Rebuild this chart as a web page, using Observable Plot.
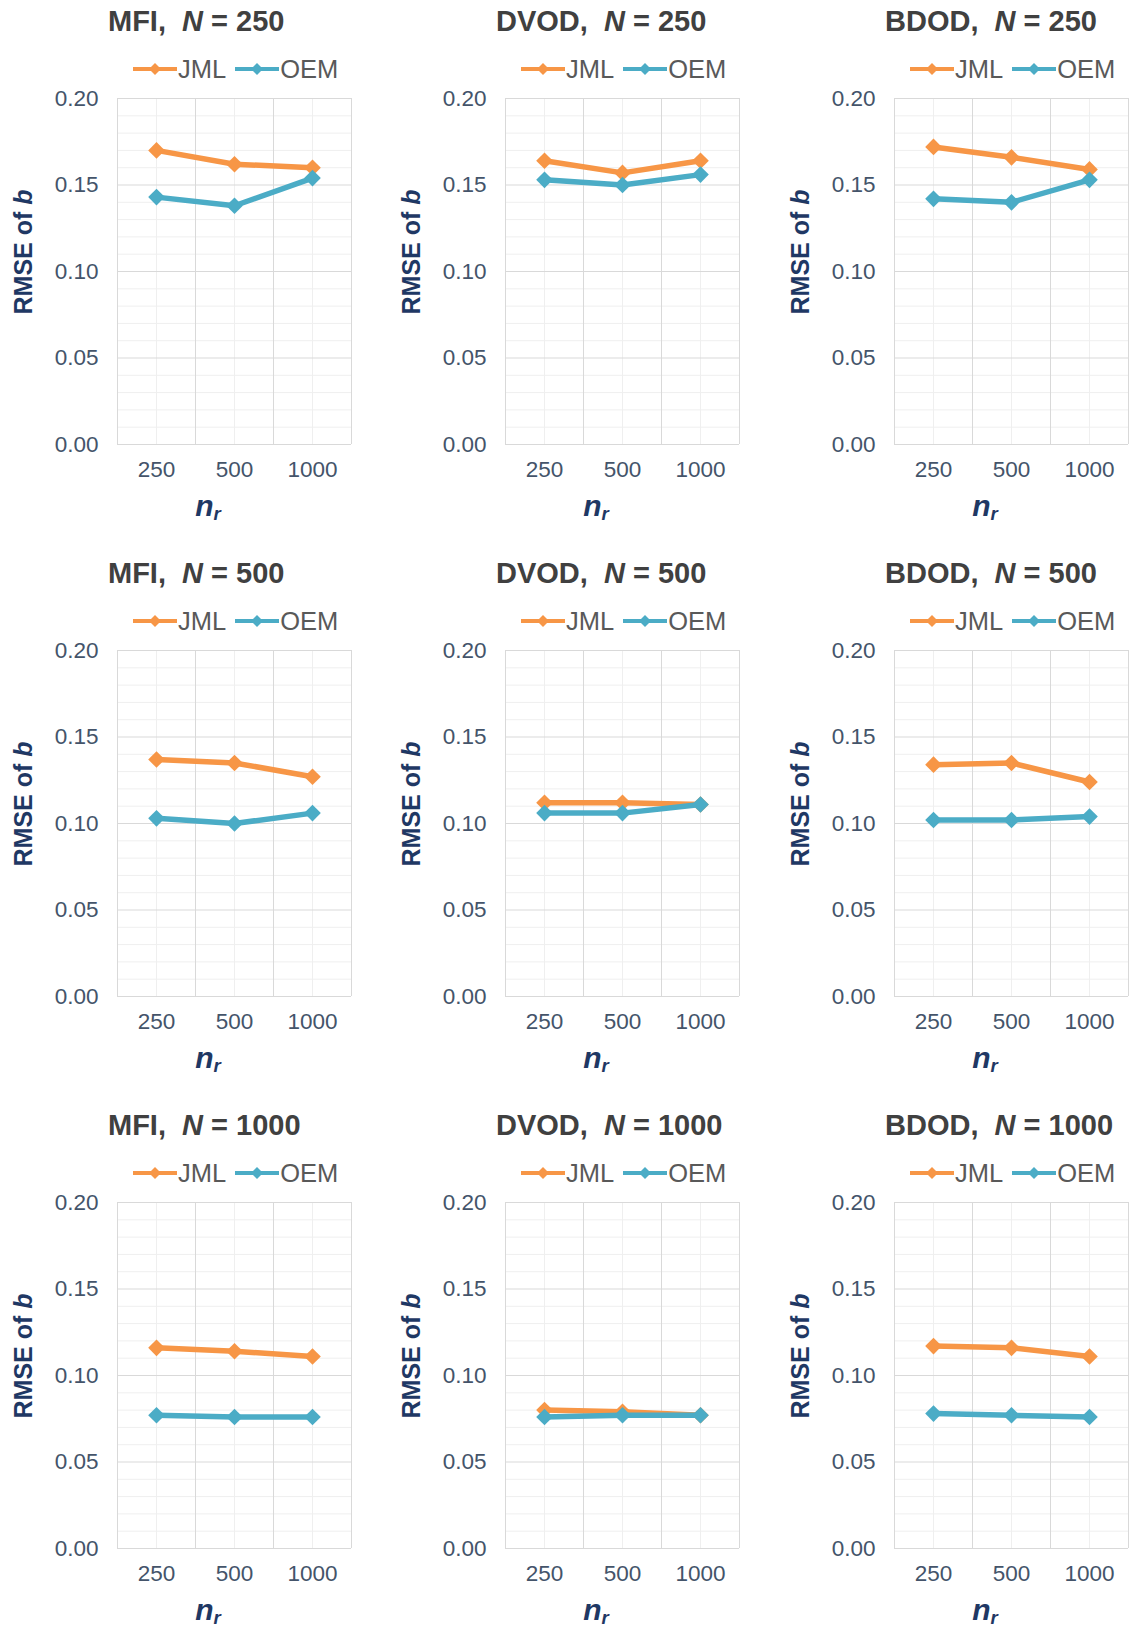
<!DOCTYPE html>
<html>
<head>
<meta charset="utf-8">
<script src="https://cdn.jsdelivr.net/npm/d3@7"></script>
<script src="https://cdn.jsdelivr.net/npm/@observablehq/plot@0.6"></script>
<style>
  body { margin: 0; background: #fff; font-family: "Liberation Sans", Arial, sans-serif; }
  #root { position: relative; width: 1133px; height: 1627px; overflow: hidden; }
  .panel { position: absolute; width: 387px; height: 552px; }
  .title { position: absolute; left: 108px; top: 3px; text-align: left; font-weight: bold;
           font-size: 29px; line-height: 36px; color: #404040; white-space: nowrap; }
  .legend { position: absolute; left: 133px; top: 55px; height: 28px; display: flex; align-items: center;
            font-size: 25.5px; color: #595959; white-space: nowrap; }
  .legend svg { display: block; margin-right: 1px; }
  .legend span { margin-right: 9px; }
  .ylab { position: absolute; left: 23px; top: 252px; transform: translate(-50%, -50%) rotate(-90deg);
          font-weight: bold; font-size: 25px; color: #1F3864; white-space: nowrap; }
  .xlab { position: absolute; left: 208px; top: 507px; transform: translate(-50%, -50%);
          font-weight: bold; font-style: italic; font-size: 30px; color: #1F3864; white-space: nowrap; }
  .xlab sub { font-size: 0.62em; vertical-align: -0.25em; }
  .plotwrap { position: absolute; left: 0; top: 85px; }
</style>
</head>
<body>
<div id="root"></div>
<script>
// ---- data ----
const nrLabels = ["250", "500", "1000"];
const methods = ["MFI", "DVOD", "BDOD"];
const sampleSizes = [250, 500, 1000];
const seriesNames = ["JML", "OEM"];
const seriesColors = ["#F79646", "#4BACC6"];
const yTicks = [0, 0.05, 0.10, 0.15, 0.20];

// RMSE of b, rows: N = 250, 500, 1000; columns: n_r = 250, 500, 1000
const JML_MFI  = [[0.170, 0.162, 0.160], [0.137, 0.135, 0.127], [0.116, 0.114, 0.111]];
const OEM_MFI  = [[0.143, 0.138, 0.154], [0.103, 0.100, 0.106], [0.077, 0.076, 0.076]];
const JML_DVOD = [[0.164, 0.157, 0.164], [0.112, 0.112, 0.111], [0.080, 0.079, 0.077]];
const OEM_DVOD = [[0.153, 0.150, 0.156], [0.106, 0.106, 0.111], [0.076, 0.077, 0.077]];
const JML_BDOD = [[0.172, 0.166, 0.159], [0.134, 0.135, 0.124], [0.117, 0.116, 0.111]];
const OEM_BDOD = [[0.142, 0.140, 0.153], [0.102, 0.102, 0.104], [0.078, 0.077, 0.076]];

const seriesByMethod = {
  MFI: [JML_MFI, OEM_MFI],
  DVOD: [JML_DVOD, OEM_DVOD],
  BDOD: [JML_BDOD, OEM_BDOD]
};

// ---- layout ----
const colX = [0, 388, 777];
const rowY = [0, 552, 1104];
const root = document.getElementById("root");

const majorY = yTicks;
const minorY = d3.range(0, 21).map(i => i / 100).filter(v => !majorY.some(m => Math.abs(m - v) < 1e-9));
const centers = nrLabels.map((_, i) => i + 0.5);
const bounds = d3.range(0, nrLabels.length + 1);

function legendHTML() {
  return seriesNames.map((name, i) => `
    <svg width="44" height="16" viewBox="0 0 44 16">
      <line x1="0" y1="8" x2="44" y2="8" stroke="${seriesColors[i]}" stroke-width="4"/>
      <path d="M22,2 L28,8 L22,14 L16,8 Z" fill="${seriesColors[i]}"/>
    </svg><span>${name}</span>`).join("");
}

sampleSizes.forEach((N, r) => {
  methods.forEach((m, c) => {
    const panel = document.createElement("div");
    panel.className = "panel";
    panel.style.left = colX[c] + "px";
    panel.style.top = rowY[r] + "px";

    const title = document.createElement("div");
    title.className = "title";
    title.innerHTML = `${m},&nbsp; <i>N</i> = ${N}`;
    panel.appendChild(title);

    const legend = document.createElement("div");
    legend.className = "legend";
    legend.innerHTML = legendHTML();
    panel.appendChild(legend);

    const data = [];
    seriesByMethod[m].forEach((arr, s) => {
      arr[r].forEach((v, i) => data.push({series: seriesNames[s], x: i + 0.5, y: v}));
    });

    const marks = [
      Plot.ruleY(minorY, {stroke: "#efefef", strokeWidth: 1}),
      Plot.ruleX(centers, {stroke: "#efefef", strokeWidth: 1}),
      Plot.ruleY(majorY, {stroke: "#d9d9d9", strokeWidth: 1}),
      Plot.ruleX(bounds, {stroke: "#d9d9d9", strokeWidth: 1}),
      Plot.axisY({ticks: yTicks, tickFormat: d3.format(".2f"), tickSize: 0, tickPadding: 19, label: null}),
      Plot.axisX({ticks: centers, tickFormat: d => nrLabels[Math.floor(d)], tickSize: 0, tickPadding: 17, label: null})
    ];
    seriesNames.forEach((name, s) => {
      const d = data.filter(e => e.series === name);
      marks.push(Plot.line(d, {x: "x", y: "y", stroke: seriesColors[s], strokeWidth: 5.5, strokeLinejoin: "round"}));
      marks.push(Plot.dot(d, {x: "x", y: "y", symbol: "diamond2", r: 7.5, fill: seriesColors[s], stroke: "none"}));
    });

    const chart = Plot.plot({
      width: 387,
      height: 420,
      marginLeft: 117,
      marginRight: 36,
      marginTop: 13,
      marginBottom: 61,
      x: {type: "linear", domain: [0, nrLabels.length]},
      y: {type: "linear", domain: [0, 0.2]},
      style: {fontFamily: '"Liberation Sans", Arial, sans-serif', fontSize: "22.5px", color: "#44546A", background: "transparent", overflow: "visible"},
      marks
    });
    const wrap = document.createElement("div");
    wrap.className = "plotwrap";
    wrap.appendChild(chart);
    panel.appendChild(wrap);

    const ylab = document.createElement("div");
    ylab.className = "ylab";
    ylab.innerHTML = "RMSE of <i>b</i>";
    panel.appendChild(ylab);

    const xlab = document.createElement("div");
    xlab.className = "xlab";
    xlab.innerHTML = "n<sub>r</sub>";
    panel.appendChild(xlab);

    root.appendChild(panel);
  });
});
</script>
</body>
</html>
